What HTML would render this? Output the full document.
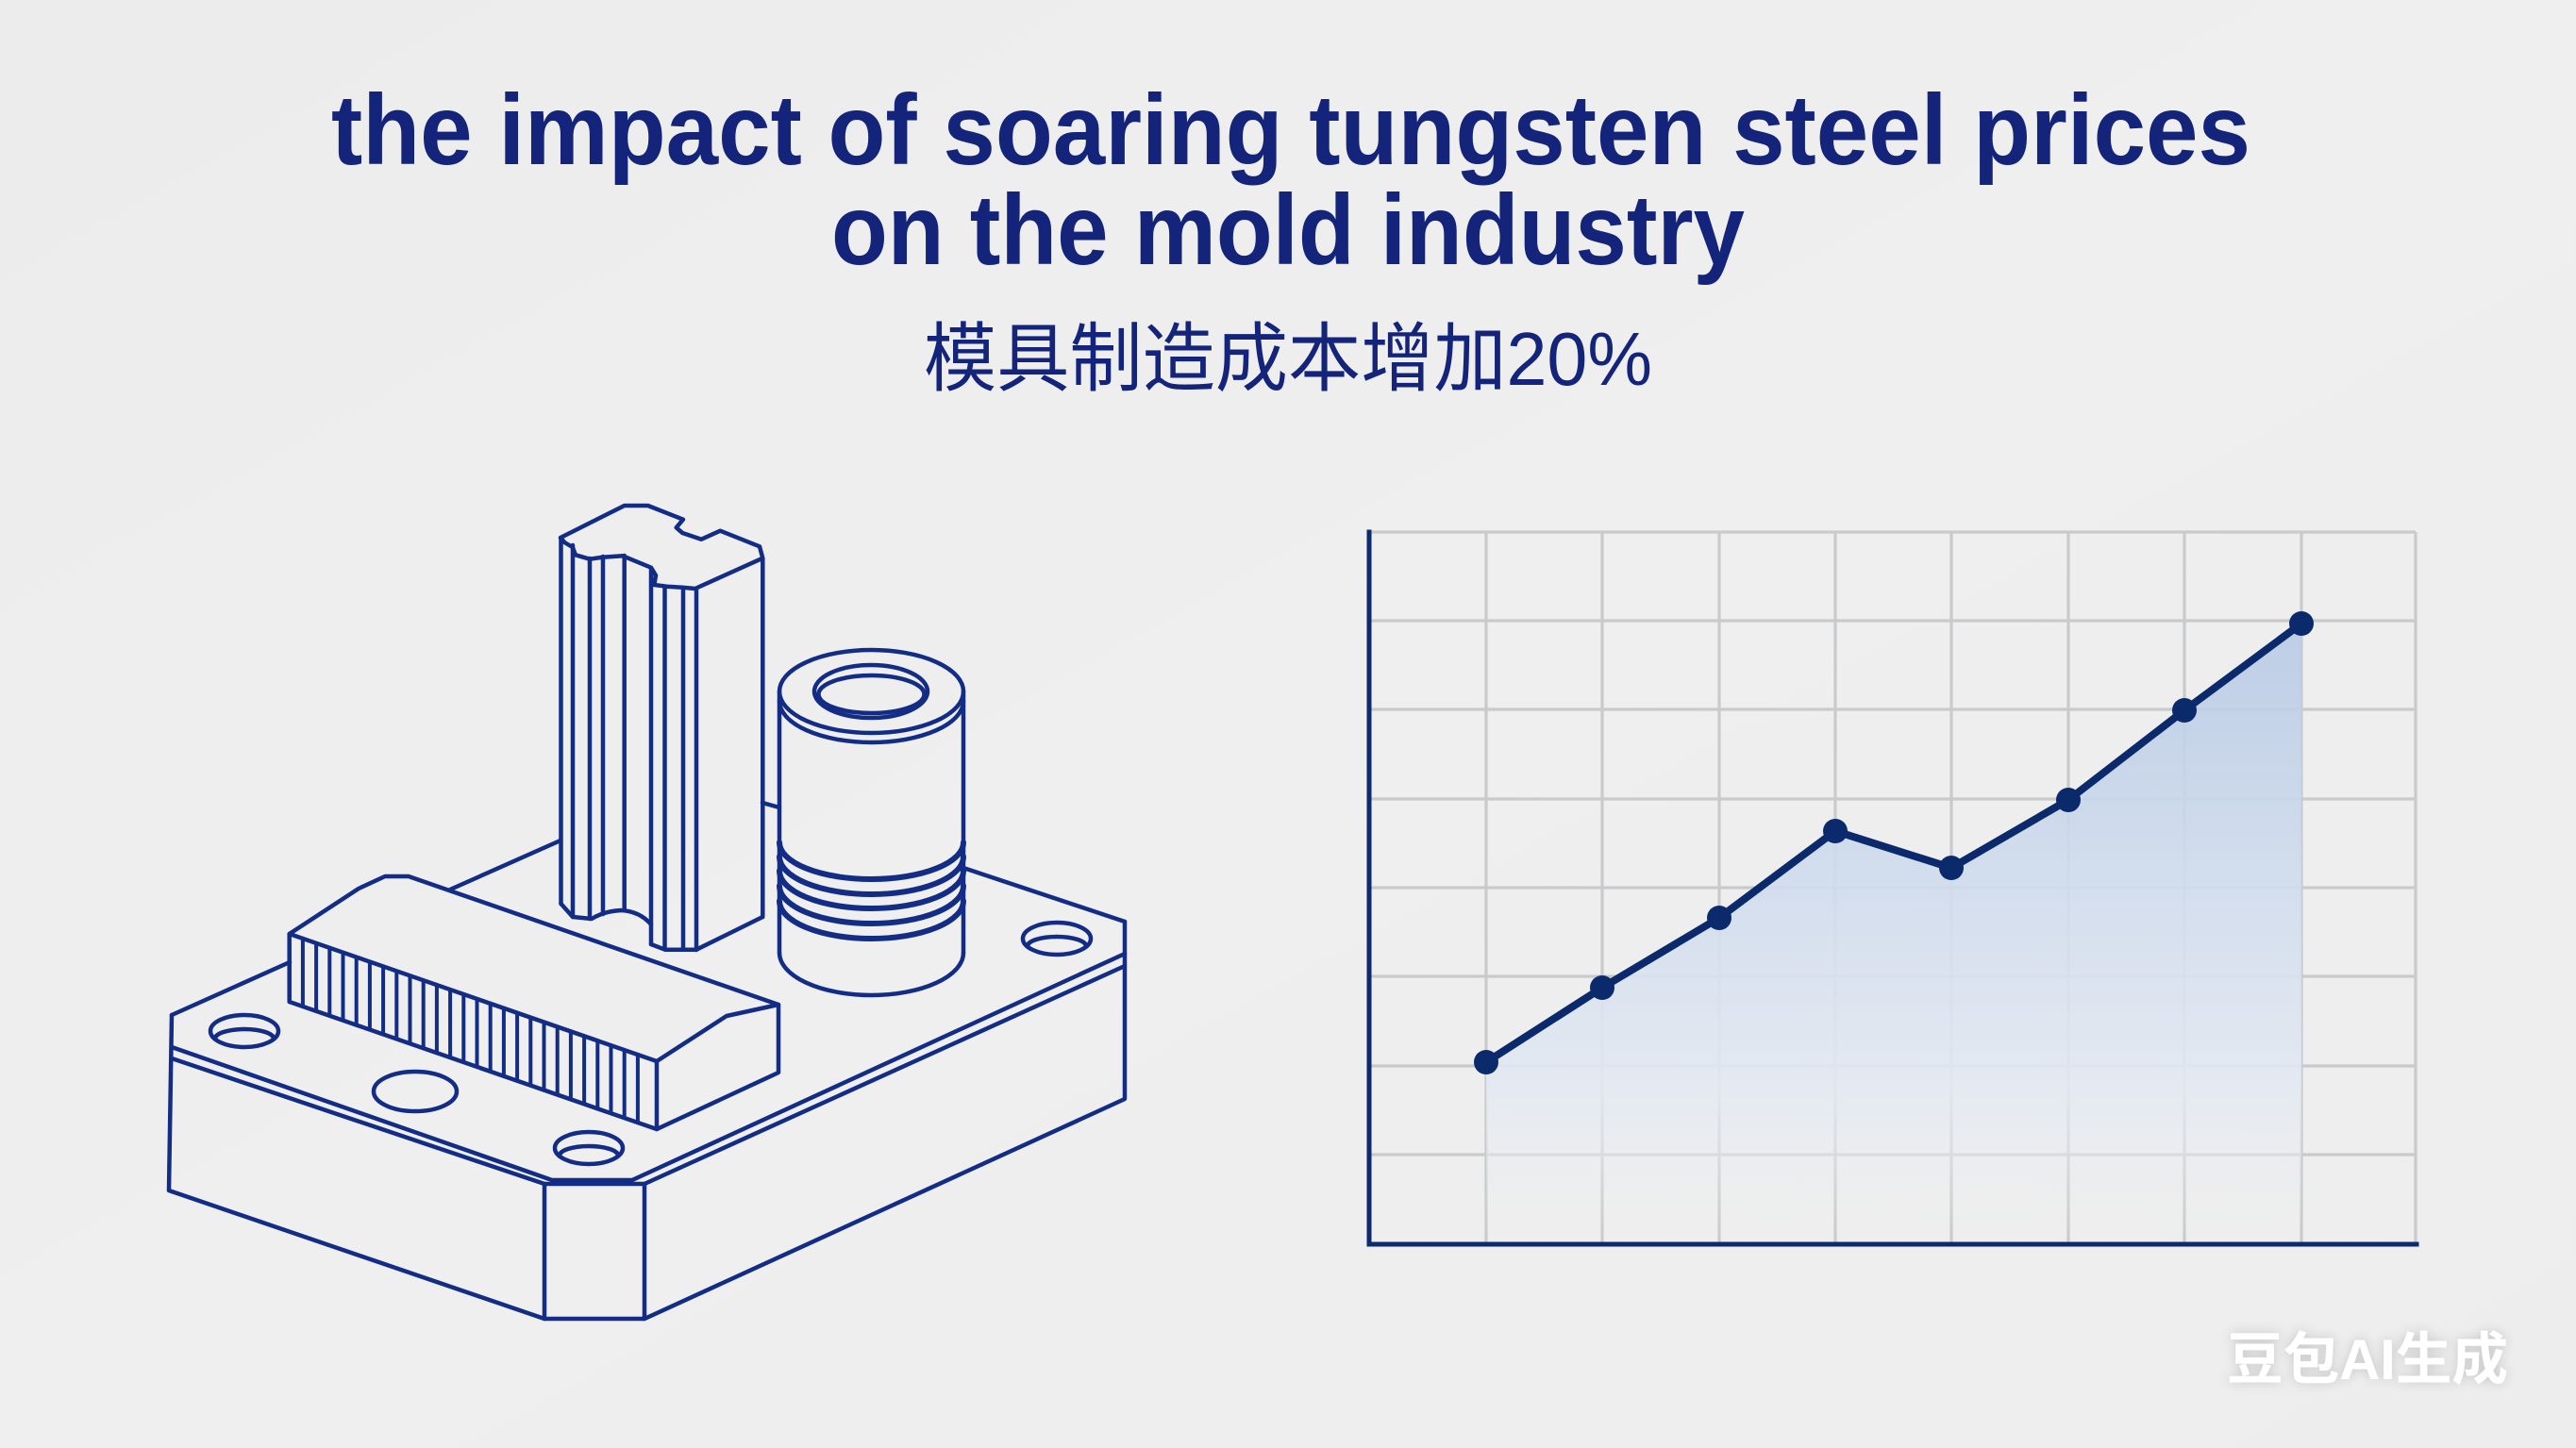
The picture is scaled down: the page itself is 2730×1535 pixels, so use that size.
<!DOCTYPE html>
<html>
<head>
<meta charset="utf-8">
<style>
  html,body{margin:0;padding:0;background:#eeeeee;}
  body{width:2730px;height:1535px;overflow:hidden;position:relative;}
  svg{position:absolute;left:0;top:0;}
</style>
</head>
<body>
<svg width="2730" height="1535" viewBox="0 0 2730 1535" xmlns="http://www.w3.org/2000/svg">
  <defs>
    <linearGradient id="bg" x1="0" y1="0" x2="1" y2="1">
      <stop offset="0" stop-color="#ececec"/>
      <stop offset="0.5" stop-color="#efefef"/>
      <stop offset="1" stop-color="#ededed"/>
    </linearGradient>
    <linearGradient id="fillg" gradientUnits="userSpaceOnUse" x1="0" y1="660" x2="0" y2="1319">
      <stop offset="0" stop-color="#b8cae5"/>
      <stop offset="0.4" stop-color="#cfdbed"/>
      <stop offset="0.75" stop-color="#e3e9f2"/>
      <stop offset="1" stop-color="#eeeeee" stop-opacity="0"/>
    </linearGradient>
    <filter id="wm" x="-20%" y="-40%" width="140%" height="180%">
      <feGaussianBlur in="SourceAlpha" stdDeviation="6"/>
      <feComponentTransfer><feFuncA type="linear" slope="0.18"/></feComponentTransfer>
      <feMerge><feMergeNode/><feMergeNode in="SourceGraphic"/></feMerge>
    </filter>
  </defs>

  <rect x="0" y="0" width="2730" height="1535" fill="url(#bg)"/>

  <!-- Title -->
  <g fill="#13247a" font-family="'Liberation Sans', 'Noto Sans CJK SC', sans-serif">
    <text x="351" y="174" font-size="106" font-weight="700" textLength="2034" lengthAdjust="spacingAndGlyphs">the impact of soaring tungsten steel prices</text>
    <text x="881" y="280" font-size="106" font-weight="700" textLength="968" lengthAdjust="spacingAndGlyphs">on the mold industry</text>
    <text x="979" y="408" font-size="80" font-weight="400" textLength="772" lengthAdjust="spacingAndGlyphs">模具制造成本增加20%</text>
  </g>

  <!-- Chart grid -->
  <g stroke="#c9cacc" stroke-width="3.2" fill="none">
    <path d="M1575,564V1319 M1698,564V1319 M1822,564V1319 M1945,564V1319 M2068,564V1319 M2192,564V1319 M2315,564V1319 M2439,564V1319 M2560,564V1319"/>
    <path d="M1451,564H2560 M1451,658H2560 M1451,752H2560 M1451,847H2560 M1451,941H2560 M1451,1035H2560 M1451,1130H2560 M1451,1224H2560"/>
  </g>

  <!-- Area fill -->
  <polygon points="1575,1126 1698,1047 1822,973 1945,881 2068,920 2192,848 2315,753 2439,661 2439,1319 1575,1319" fill="url(#fillg)" opacity="0.9"/>

  <!-- Axes -->
  <g stroke="#0c2a6e" stroke-width="5" fill="none" stroke-linecap="square">
    <path d="M1451,564V1319 H2561"/>
  </g>

  <!-- Line -->
  <polyline points="1575,1126 1698,1047 1822,973 1945,881 2068,920 2192,848 2315,753 2439,661" fill="none" stroke="#0a2a6b" stroke-width="8" stroke-linejoin="round" stroke-linecap="round"/>
  <g fill="#0a2a6b">
    <circle cx="1575" cy="1126" r="13"/>
    <circle cx="1698" cy="1047" r="13"/>
    <circle cx="1822" cy="973" r="13"/>
    <circle cx="1945" cy="881" r="13"/>
    <circle cx="2068" cy="920" r="13"/>
    <circle cx="2192" cy="848" r="13"/>
    <circle cx="2315" cy="753" r="13"/>
    <circle cx="2439" cy="661" r="13"/>
  </g>

  <!-- Mold illustration -->
  <g stroke="#132c85" stroke-width="4.5" fill="none" stroke-linejoin="round" stroke-linecap="round">
    <!-- base plate back edges -->
    <path d="M182,1076 L307,1020"/>
    <path d="M477,943 L594,891"/>
    <path d="M808,851 L826,856"/>
    <path d="M1021,920 L1192,977"/>
    <!-- base outline -->
    <path d="M182,1076 L179,1262 L577,1398 L683,1398 L1192,1165 L1192,977"/>
    <path d="M182,1110 L585,1251 L670,1251 L1192,1011"/>
    <path d="M182,1122 L577,1255 L683,1255 L1192,1024"/>
    <path d="M577,1255 V1398 M683,1255 V1398"/>
    <!-- holes -->
    <ellipse cx="259" cy="1093" rx="36" ry="17"/>
    <path d="M228,1101 A31,10 0 0 1 290,1101"/>
    <ellipse cx="440" cy="1157" rx="44" ry="21"/>
    <ellipse cx="624" cy="1217" rx="36" ry="17"/>
    <path d="M593,1225 A31,10 0 0 1 655,1225"/>
    <ellipse cx="1120" cy="995" rx="36" ry="17"/>
    <path d="M1089,1003 A31,10 0 0 1 1151,1003"/>

    <!-- comb block -->
    <path d="M306.7,990 L380,942 L408,929 L433,929 L825,1065 L770,1077 L696,1125 Z" fill="#eeeeee"/>
    <path d="M306.7,990 V1062 L696,1197 L825,1137 V1065"/>
    <path d="M696,1125 V1197"/>
    <path d="M320.9,994.9 v72 m14.2,-67.08 v72 m14.2,-67.08 v72 m14.2,-67.08 v72 m14.2,-67.08 v72 m14.2,-67.08 v72 m14.2,-67.08 v72 m14.2,-67.08 v72 m14.2,-67.08 v72 m14.2,-67.08 v72 m14.2,-67.08 v72 m14.2,-67.08 v72 m14.2,-67.08 v72 m14.2,-67.08 v72 m14.2,-67.08 v72 m14.2,-67.08 v72 m14.2,-67.08 v72 m14.2,-67.08 v72 m14.2,-67.08 v72 m14.2,-67.08 v72 m14.2,-67.08 v72 m14.2,-67.08 v72 m14.2,-67.08 v72 m14.2,-67.08 v72 m14.2,-67.08 v72 m14.2,-67.08 v72" stroke-width="4"/>

    <!-- pillar -->
    <path d="M594,570 L661.7,536 L686.7,536 L724,550.7 L716.7,559.3 L723.3,565 L743.3,571.7 L763.3,562.7 L805,579.3 L808.3,591.7 L736.7,624 L723.3,622.7 L706.7,621.7 L693.3,620 L695,610 L690,601.7 L660,589.3 L638.3,590.7 L625,592.7 L610,588.3 L606.7,580 L598.3,575 Z"/>
    <path d="M594.5,570 V958 M607,578 V972 M625,592 V974 M639,590 V969 M661.7,589 V965 M690,603 V1001 M704.5,622 V1006 M724,623 V1006 M738,624 V1007 M808.3,592 V972"/>
    <path d="M594.5,958 L607,972 L627,974 Q640,966 658,965 Q678,966 690,980"/>
    <path d="M690,1001 L704.8,1006.7 L738,1006.7 L808.3,972"/>

    <!-- cylinder -->
    <ellipse cx="923.5" cy="733" rx="97.5" ry="44"/>
    <path d="M826,743 A97.5,44 0 0 0 1021,743"/>
    <ellipse cx="923" cy="733" rx="60" ry="28"/>
    <ellipse cx="923.5" cy="736" rx="56" ry="20"/>
    <path d="M826,733 V1010 M1021,733 V1010"/>
    <path d="M826,1010 A97.5,45 0 0 0 1021,1010"/>
  </g>
  <g stroke="#132c85" stroke-width="6" fill="none" stroke-linecap="round">
    <path d="M826,893 A97.5,39 0 0 0 1021,893"/>
    <path d="M826,908 A97.5,40 0 0 0 1021,908"/>
    <path d="M826,923 A97.5,40 0 0 0 1021,923"/>
    <path d="M826,939 A97.5,40 0 0 0 1021,939"/>
    <path d="M826,955 A97.5,40 0 0 0 1021,955"/>
  </g>

  <!-- Watermark -->
  <text x="2360" y="1462" font-size="60" font-weight="700" fill="#ffffff" filter="url(#wm)" textLength="298" lengthAdjust="spacingAndGlyphs" font-family="'Liberation Sans', 'Noto Sans CJK SC', sans-serif">豆包AI生成</text>
</svg>
</body>
</html>
